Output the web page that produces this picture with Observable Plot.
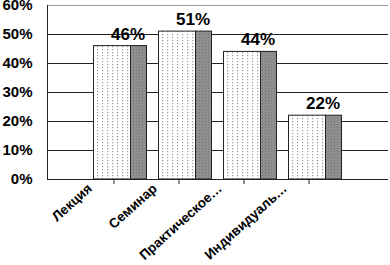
<!DOCTYPE html>
<html>
<head>
<meta charset="utf-8">
<script src="https://cdn.jsdelivr.net/npm/d3@7"></script>
<script src="https://cdn.jsdelivr.net/npm/@observablehq/plot@0.6"></script>
<style>
  body { margin: 0; background: #fff; }
  svg { font-family: "Liberation Sans", Arial, sans-serif; }
</style>
</head>
<body>
<div id="chart"></div>
<script>
const categories = ["Лекция", "Семинар", "Практическое…", "Индивидуаль…"];
const values = [0.46, 0.51, 0.44, 0.22];
const yTicks = [0, 0.1, 0.2, 0.3, 0.4, 0.5, 0.6];

const data = categories.map((c, i) => ({category: c, value: values[i]}));

const chart = Plot.plot({
  width: 390,
  height: 265,
  marginLeft: 47,
  marginRight: 2,
  marginTop: 5,
  marginBottom: 86,
  style: {fontFamily: "'Liberation Sans', Arial, sans-serif", background: "#fff"},
  x: {domain: categories, range: [80.5, 340.5], padding: 0},
  y: {domain: [0, 0.6], ticks: yTicks},
  marks: [
    Plot.gridY(yTicks.slice(0, -1), {stroke: "#222", strokeOpacity: 1}),
    Plot.ruleY([0.6], {stroke: "#999"}),
    Plot.axisY(yTicks, {tickSize: 4, tickPadding: 11, tickFormat: d3.format(".0%"), fontSize: 15, fontWeight: "bold", fill: "#000", stroke: null, label: null}),
    Plot.barY(data, {x: "category", y: "value", fill: "url(#lightDots)", stroke: "#222", strokeWidth: 1, insetLeft: 12.5, insetRight: 15.5}),
    Plot.barY(data, {x: "category", y: "value", fill: "url(#darkDots)", stroke: "#222", strokeWidth: 1, insetLeft: 49.5, insetRight: -0.5}),
    Plot.ruleY([0], {stroke: "#222"}),
    Plot.axisX({tickSize: 5, tickFormat: () => "", label: null, stroke: "#222"}),
    Plot.text(categories, {x: d => d, frameAnchor: "bottom", dy: 7, dx: -24, rotate: -42, textAnchor: "end", lineAnchor: "middle", fontSize: 13.5, fontWeight: "bold", fill: "#000"}),
    Plot.text(data, {x: "category", y: "value", text: d => d3.format(".0%")(d.value), dy: -12, dx: 14, fontSize: 17, fontWeight: "bold", fill: "#000"})
  ]
});

// left axis line
const svg = d3.select(chart);
svg.append("line").attr("x1", 47.5).attr("x2", 47.5).attr("y1", 5).attr("y2", 179).attr("stroke", "#222");

const defs = svg.insert("defs", ":first-child");
const p1 = defs.append("pattern").attr("id", "lightDots").attr("patternUnits", "userSpaceOnUse").attr("width", 5).attr("height", 3);
p1.append("rect").attr("width", 5).attr("height", 3).attr("fill", "#fff");
p1.append("rect").attr("x", 2).attr("y", 1).attr("width", 1.2).attr("height", 1.2).attr("fill", "#9a9a9a");
const p2 = defs.append("pattern").attr("id", "darkDots").attr("patternUnits", "userSpaceOnUse").attr("width", 3).attr("height", 3);
p2.append("rect").attr("width", 3).attr("height", 3).attr("fill", "#8e8e8e");
p2.append("rect").attr("x", 1).attr("y", 1).attr("width", 1).attr("height", 1).attr("fill", "#777");

document.getElementById("chart").appendChild(chart);
</script>
</body>
</html>
